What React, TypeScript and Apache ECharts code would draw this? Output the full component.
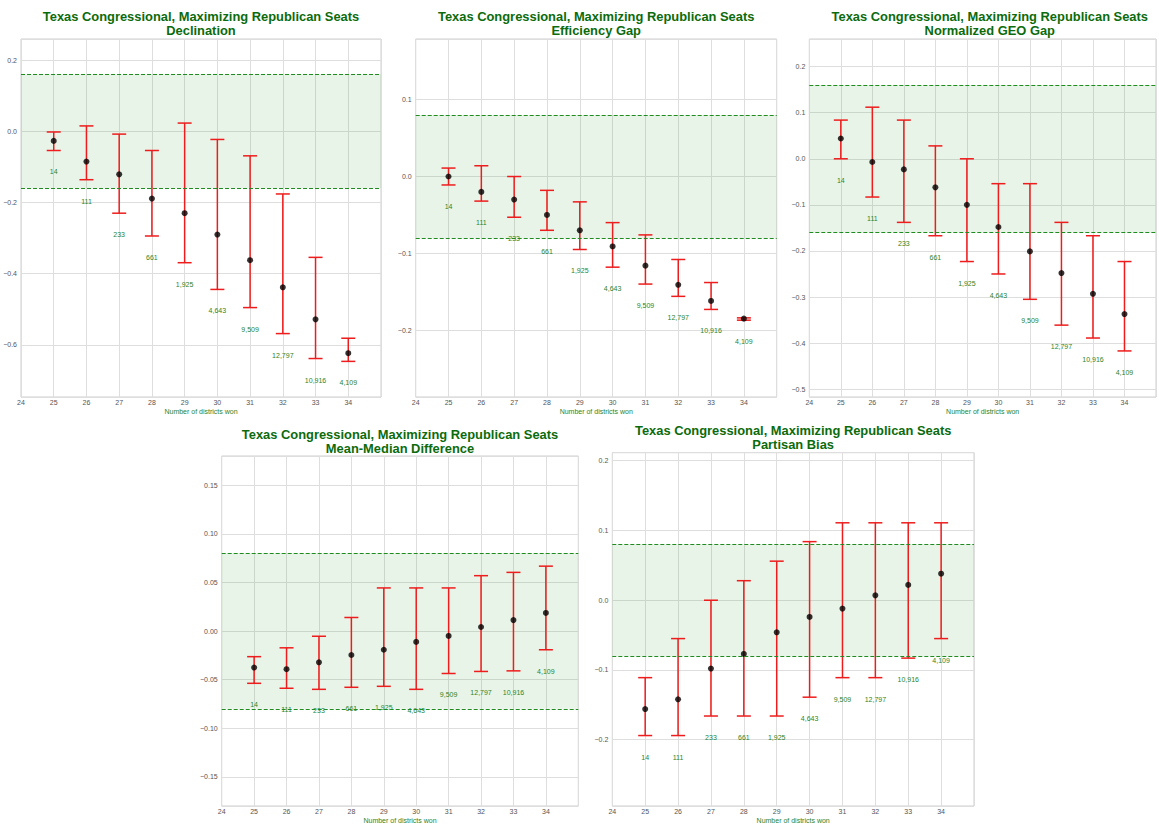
import React, { useEffect, useRef } from "react";
import * as echarts from "echarts";

const districts = [25, 26, 27, 28, 29, 30, 31, 32, 33, 34];
const ensembleCounts = ["14", "111", "233", "661", "1,925", "4,643", "9,509", "12,797", "10,916", "4,109"];
const xTicks = [24, 25, 26, 27, 28, 29, 30, 31, 32, 33, 34];

const declMean = [-0.027, -0.085, -0.121, -0.189, -0.23, -0.29, -0.362, -0.438, -0.528, -0.623];
const declLow = [-0.054, -0.136, -0.23, -0.294, -0.369, -0.444, -0.495, -0.568, -0.638, -0.646];
const declHigh = [-0.002, 0.015, -0.008, -0.054, 0.023, -0.023, -0.069, -0.176, -0.354, -0.581];

const egMean = [0.0, -0.02, -0.03, -0.05, -0.07, -0.091, -0.116, -0.141, -0.162, -0.185];
const egLow = [-0.011, -0.032, -0.053, -0.07, -0.095, -0.118, -0.14, -0.156, -0.173, -0.187];
const egHigh = [0.011, 0.014, 0.0, -0.018, -0.033, -0.06, -0.076, -0.108, -0.138, -0.184];

const geoMean = [0.044, -0.007, -0.023, -0.062, -0.1, -0.148, -0.201, -0.248, -0.293, -0.337];
const geoLow = [0.0, -0.083, -0.138, -0.167, -0.223, -0.25, -0.305, -0.361, -0.389, -0.417];
const geoHigh = [0.084, 0.112, 0.084, 0.028, 0.0, -0.054, -0.054, -0.138, -0.167, -0.223];

const mmMean = [-0.0376, -0.0393, -0.0322, -0.0247, -0.0193, -0.0112, -0.0051, 0.0041, 0.0112, 0.0186];
const mmLow = [-0.0538, -0.0589, -0.06, -0.0579, -0.0569, -0.06, -0.0437, -0.0416, -0.041, -0.0193];
const mmHigh = [-0.0264, -0.0173, -0.0054, 0.0139, 0.0443, 0.0443, 0.0443, 0.0569, 0.0603, 0.0667];

const pbMean = [-0.156, -0.142, -0.098, -0.077, -0.046, -0.024, -0.012, 0.007, 0.022, 0.038];
const pbLow = [-0.194, -0.194, -0.166, -0.166, -0.166, -0.139, -0.111, -0.111, -0.083, -0.055];
const pbHigh = [-0.111, -0.055, 0.0, 0.028, 0.056, 0.084, 0.111, 0.111, 0.111, 0.111];

const mainTitle = "Texas Congressional, Maximizing Republican Seats";
const xAxisName = "Number of districts won";

const panels = [
  { name: "Declination", mean: declMean, low: declLow, high: declHigh, band: 0.16, yMin: -0.746, yMax: 0.259, tick: 0.2, split: 5, decimals: 1,
    grid: { left: 21, top: 39, width: 360, height: 358 }, titleY: [16.7, 30.3] },
  { name: "Efficiency Gap", mean: egMean, low: egLow, high: egHigh, band: 0.08, yMin: -0.287, yMax: 0.179, tick: 0.1, split: 5, decimals: 1,
    grid: { left: 415.7, top: 39, width: 361, height: 358 }, titleY: [16.7, 30.3] },
  { name: "Normalized GEO Gap", mean: geoMean, low: geoLow, high: geoHigh, band: 0.16, yMin: -0.517, yMax: 0.26, tick: 0.1, split: 8, decimals: 1,
    grid: { left: 809.3, top: 39, width: 361, height: 358 }, titleY: [16.7, 30.3] },
  { name: "Mean-Median Difference", mean: mmMean, low: mmLow, high: mmHigh, band: 0.08, yMin: -0.18, yMax: 0.18, tick: 0.05, split: 7, decimals: 2,
    grid: { left: 221.7, top: 456, width: 356.6, height: 355 }, titleY: [434.7, 448] },
  { name: "Partisan Bias", mean: pbMean, low: pbLow, high: pbHigh, band: 0.08, yMin: -0.295, yMax: 0.2115, tick: 0.1, split: 5, decimals: 1,
    grid: { left: 612.3, top: 452.7, width: 361.7, height: 358.3 }, titleY: [430.7, 444] },
];

const FONT = "'Liberation Sans', Arial, sans-serif";
const TITLE_COLOR = "#0c6b0c";
const LABEL_GREEN = "#2a842a";
const RED = "#ee1c1c";

export default function App() {
  const ref = useRef<HTMLDivElement>(null);

  useEffect(() => {
    document.body.style.margin = "0";
    const chart = echarts.init(ref.current!, null, { renderer: "svg" });

    const grids: any[] = [];
    const xAxes: any[] = [];
    const yAxes: any[] = [];
    const series: any[] = [];
    const graphics: any[] = [];

    panels.forEach((p, i) => {
      grids.push({ ...p.grid, show: true, borderColor: "#cfcfcf", borderWidth: 1, backgroundColor: "transparent", containLabel: false });
      xAxes.push({
        gridIndex: i, type: "value", min: 24, max: 35, interval: 1,
        name: xAxisName, nameLocation: "middle", nameGap: 11,
        nameTextStyle: { color: LABEL_GREEN, fontSize: 7, fontFamily: FONT },
        axisLine: { show: false }, axisTick: { show: false },
        axisLabel: { margin: 2, fontSize: 7, color: "#555", fontFamily: FONT,
          formatter: (v: number) => (xTicks.includes(v) ? String(v) : "") },
        splitLine: { show: true, lineStyle: { color: "#dedede", width: 1 } },
      });
      yAxes.push({
        gridIndex: i, type: "value", min: p.yMin, max: p.yMax, splitNumber: p.split,
        axisLine: { show: false }, axisTick: { show: false },
        axisLabel: { margin: 4, fontSize: 7, color: "#555", fontFamily: FONT,
          formatter: (v: number) => {
            const r = v / p.tick;
            if (Math.abs(r - Math.round(r)) > 1e-6) return "";
            const s = (Math.round(r) * p.tick).toFixed(p.decimals);
            return s.startsWith("-") ? "\u2212" + s.slice(1) : s;
          } },
        splitLine: { show: true, lineStyle: { color: "#dedede", width: 1 } },
      });

      // band
      series.push({
        type: "line", xAxisIndex: i, yAxisIndex: i, data: [], silent: true, z: 1,
        markArea: { silent: true, itemStyle: { color: "rgba(0,128,0,0.09)" },
          data: [[{ yAxis: -p.band }, { yAxis: p.band }]] },
        markLine: { silent: true, symbol: ["none", "none"], label: { show: false },
          lineStyle: { color: "#1e8c1e", type: [4, 2], width: 1.2 },
          data: [{ yAxis: p.band }, { yAxis: -p.band }] },
      });

      // error bars + count labels
      const ebData = districts.map((d, k) => [d, p.low[k], p.high[k]]);
      series.push({
        type: "custom", xAxisIndex: i, yAxisIndex: i, z: 3, clip: false,
        encode: { x: 0, y: [1, 2] },
        data: ebData,
        renderItem: (params: any, api: any) => {
          const x = api.value(0), lo = api.value(1), hi = api.value(2);
          const t = api.coord([x, hi]);
          const b = api.coord([x, lo]);
          const cw = 7;
          const ls = { stroke: RED, lineWidth: 1.5 };
          return {
            type: "group",
            children: [
              { type: "line", shape: { x1: t[0], y1: t[1], x2: b[0], y2: b[1] }, style: ls },
              { type: "line", shape: { x1: t[0] - cw, y1: t[1], x2: t[0] + cw, y2: t[1] }, style: ls },
              { type: "line", shape: { x1: b[0] - cw, y1: b[1], x2: b[0] + cw, y2: b[1] }, style: ls },
              { type: "text", x: b[0], y: b[1] + 21.5,
                style: { text: ensembleCounts[params.dataIndex], fill: LABEL_GREEN, fontSize: 7, fontFamily: FONT,
                  textAlign: "center", textVerticalAlign: "middle" } },
            ],
          };
        },
      });

      // points
      series.push({
        type: "scatter", xAxisIndex: i, yAxisIndex: i, z: 4,
        symbol: "circle", symbolSize: 6, itemStyle: { color: "#000" },
        data: districts.map((d, k) => [d, p.mean[k]]),
      });

      const cx = p.grid.left + p.grid.width / 2;
      graphics.push({
        type: "text", x: cx, y: p.titleY[0],
        style: { text: mainTitle, fill: TITLE_COLOR, fontSize: 12.9, fontWeight: "bold", fontFamily: FONT,
          textAlign: "center", textVerticalAlign: "middle" },
      });
      graphics.push({
        type: "text", x: cx, y: p.titleY[1],
        style: { text: p.name, fill: TITLE_COLOR, fontSize: 12.9, fontWeight: "bold", fontFamily: FONT,
          textAlign: "center", textVerticalAlign: "middle" },
      });
    });

    chart.setOption({
      animation: false,
      backgroundColor: "#fff",
      grid: grids,
      xAxis: xAxes,
      yAxis: yAxes,
      series,
      graphic: graphics,
    });

    return () => chart.dispose();
  }, []);

  return <div ref={ref} style={{ position: "absolute", left: 0, top: 0, width: 1159, height: 825 }} />;
}
